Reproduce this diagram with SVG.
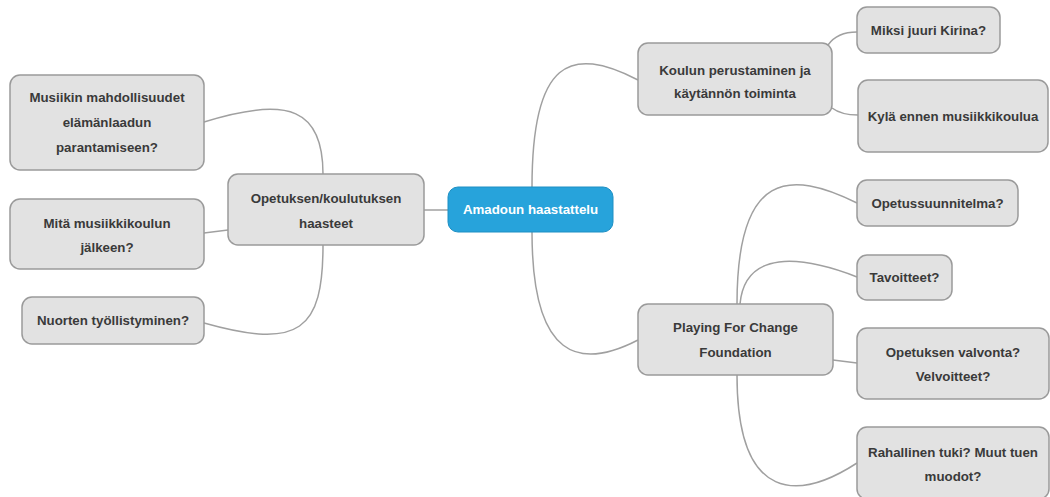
<svg xmlns="http://www.w3.org/2000/svg" width="1050" height="497" viewBox="0 0 1050 497">
<style>
.box{fill:#e2e2e2;stroke:#9a9a9a;stroke-width:1.5}
.root{fill:#27a3db;stroke:#1e8fc3;stroke-width:1}
.t{font-family:"Liberation Sans",Arial,sans-serif;font-size:13.3px;font-weight:bold;fill:#3a3a3a;text-anchor:middle}
.rt{font-family:"Liberation Sans",Arial,sans-serif;font-size:13.3px;font-weight:bold;fill:#ffffff;text-anchor:middle}
.c{fill:none;stroke:#a0a0a0;stroke-width:1.5}
</style>
<rect width="1050" height="497" fill="#ffffff"/>
<g id="connectors">
<path class="c" d="M424,210 L448,210"/>
<path class="c" d="M323,174 C323,110 290,95 204,122"/>
<path class="c" d="M204,233 L228,230"/>
<path class="c" d="M323,245 C323,330 300,350 204,323"/>
<path class="c" d="M532,187 C532,60 570,45 638,80"/>
<path class="c" d="M532,232 C532,360 580,370 638,340"/>
<path class="c" d="M828,45 C835,35 845,32 857,32"/>
<path class="c" d="M832,108 C840,114 848,115 858,115"/>
<path class="c" d="M737,304 C737,170 790,170 857,203"/>
<path class="c" d="M740,304 C745,250 800,255 857,277"/>
<path class="c" d="M833,360 L857,363"/>
<path class="c" d="M737,375 C737,505 800,500 857,463"/>
</g>
<g id="root">
<rect class="root" x="448" y="187" width="165" height="45" rx="10"/>
<text class="rt" x="530.5" y="214">Amadoun haastattelu</text>
</g>
<g id="n-opetuksen">
<rect class="box" x="228" y="174" width="196" height="71" rx="10"/>
<text class="t" x="326" y="203">Opetuksen/koulutuksen</text>
<text class="t" x="326" y="228">haasteet</text>
</g>
<g id="n-musiikin">
<rect class="box" x="10" y="75" width="194" height="95" rx="10"/>
<text class="t" x="107" y="102">Musiikin mahdollisuudet</text>
<text class="t" x="107" y="127">elämänlaadun</text>
<text class="t" x="107" y="152">parantamiseen?</text>
</g>
<g id="n-mita">
<rect class="box" x="10" y="199" width="194" height="70" rx="10"/>
<text class="t" x="107" y="228">Mitä musiikkikoulun</text>
<text class="t" x="107" y="252">jälkeen?</text>
</g>
<g id="n-nuorten">
<rect class="box" x="22" y="297" width="182" height="47" rx="10"/>
<text class="t" x="113" y="325">Nuorten työllistyminen?</text>
</g>
<g id="n-koulun">
<rect class="box" x="638" y="43" width="194" height="72" rx="10"/>
<text class="t" x="735" y="75">Koulun perustaminen ja</text>
<text class="t" x="735" y="98">käytännön toiminta</text>
</g>
<g id="n-miksi">
<rect class="box" x="857" y="7" width="143" height="46" rx="10"/>
<text class="t" x="928.5" y="35">Miksi juuri Kirina?</text>
</g>
<g id="n-kyla">
<rect class="box" x="858" y="80" width="190" height="72" rx="10"/>
<text class="t" x="953" y="121">Kylä ennen musiikkikoulua</text>
</g>
<g id="n-playing">
<rect class="box" x="638" y="304" width="195" height="71" rx="10"/>
<text class="t" x="735.5" y="332">Playing For Change</text>
<text class="t" x="735.5" y="357">Foundation</text>
</g>
<g id="n-opetussuunnitelma">
<rect class="box" x="857" y="180" width="161" height="46" rx="10"/>
<text class="t" x="937.5" y="208">Opetussuunnitelma?</text>
</g>
<g id="n-tavoitteet">
<rect class="box" x="857" y="255" width="95" height="45" rx="10"/>
<text class="t" x="904.5" y="282">Tavoitteet?</text>
</g>
<g id="n-valvonta">
<rect class="box" x="857" y="328" width="192" height="71" rx="10"/>
<text class="t" x="953" y="357">Opetuksen valvonta?</text>
<text class="t" x="953" y="381">Velvoitteet?</text>
</g>
<g id="n-rahallinen">
<rect class="box" x="857" y="427" width="192" height="72" rx="10"/>
<text class="t" x="953" y="457">Rahallinen tuki? Muut tuen</text>
<text class="t" x="953" y="481">muodot?</text>
</g>
</svg>
